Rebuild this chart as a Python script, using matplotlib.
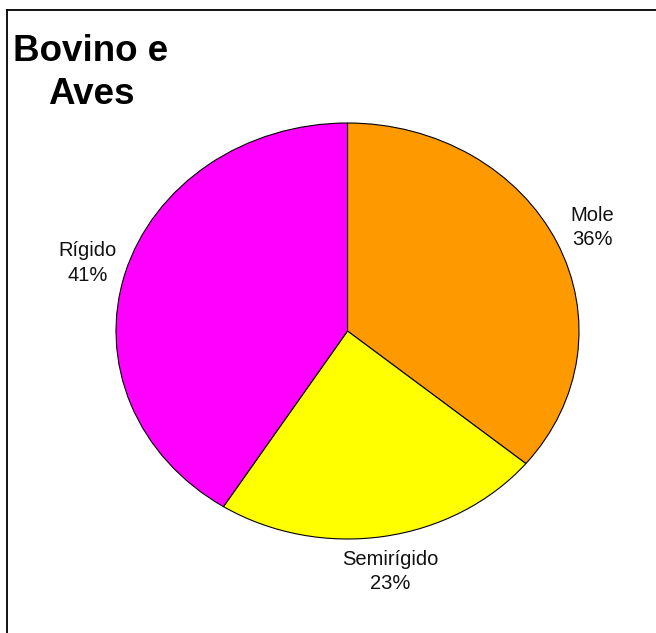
import matplotlib
matplotlib.use("Agg")
import matplotlib.pyplot as plt
from matplotlib.lines import Line2D

plt.rcParams['font.family'] = ['Liberation Sans', 'DejaVu Sans']

title = "Bovino e\nAves"
categories = ["Mole", "Semirígido", "Rígido"]
values = [36, 23, 41]
colors = ["#FF9900", "#FFFF00", "#FF00FF"]

W, H = 656, 633
fig = plt.figure(figsize=(W / 100, H / 100), dpi=100)
fig.patch.set_facecolor("white")

# pie bounding box (pixels): x 116..579, y 123..539
left, right, top, bottom = 116, 579, 123, 539
ax = fig.add_axes([left / W, 1 - bottom / H, (right - left) / W, (bottom - top) / H])

labels = [f"{c}\n{v}%" for c, v in zip(categories, values)]
wedges, texts = ax.pie(values, labels=labels, colors=colors, startangle=90,
                       counterclock=False, labeldistance=1.17,
                       wedgeprops=dict(edgecolor="black", linewidth=0.8),
                       textprops=dict(fontsize=14.5, color="#111111"))
for t in texts:
    t.set_horizontalalignment("center")
    t.set_verticalalignment("center")
    t.set_multialignment("center")
    t.set_linespacing(1.35)
ax.set_xlim(-1, 1)
ax.set_ylim(-1, 1)
ax.set_aspect("auto")
ax.axis("off")

fig.text(91 / W, 1 - 34 / H, title, ha="center", va="top", fontsize=26.5,
         fontweight="bold", multialignment="center", linespacing=1.3)

# frame lines (top and left)
fig.add_artist(Line2D([7 / W, 1], [1 - 9.5 / H, 1 - 9.5 / H], color="black", lw=1.3,
                      transform=fig.transFigure))
fig.add_artist(Line2D([7 / W, 7 / W], [1 - 9.5 / H, 0], color="black", lw=1.3,
                      transform=fig.transFigure))

fig.savefig("out.png", dpi=100)
